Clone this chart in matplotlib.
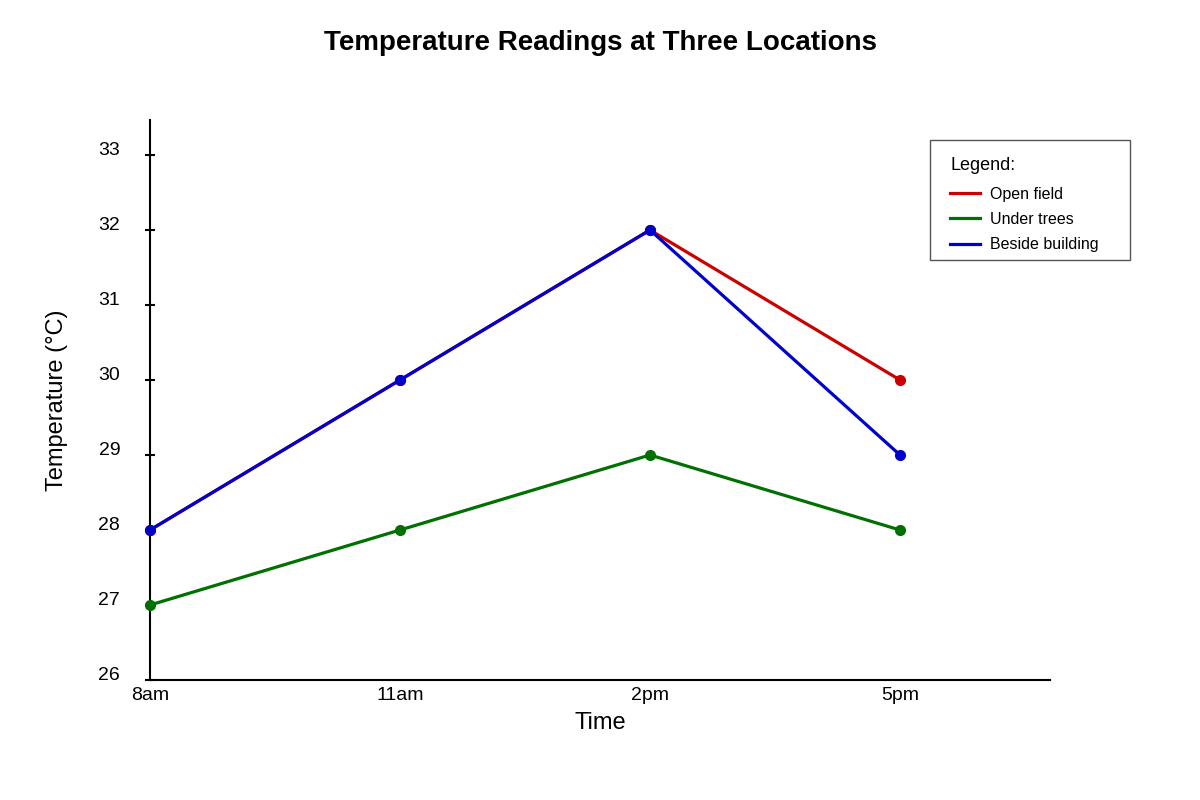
import matplotlib
matplotlib.use('Agg')
import matplotlib.pyplot as plt
from matplotlib.patches import Rectangle

plt.rcParams['font.family'] = ['Liberation Sans', 'DejaVu Sans']

# 数据
times = ['8am', '11am', '2pm', '5pm']
open_field = [28, 30, 32, 30]
under_trees = [27, 28, 29, 28]
beside_building = [28, 30, 32, 29]
y_ticks = [26, 27, 28, 29, 30, 31, 32, 33]

series = [
    ('Open field', open_field, '#cc0000'),
    ('Under trees', under_trees, '#007000'),
    ('Beside building', beside_building, '#0000cc'),
]

fig = plt.figure(figsize=(12, 8), dpi=100)
ax = fig.add_axes([0.125, 0.15, 0.75, 0.70])

x = list(range(len(times)))
for name, vals, col in series:
    ax.plot(x, vals, color=col, lw=2.3, marker='o', ms=7, label=name,
            clip_on=False, zorder=3)

ax.set_xlim(0, 3.6)
ax.set_ylim(26, 26 + 560 / 75)
ax.set_xticks(x)
ax.set_xticklabels(times, fontsize=14)
ax.set_yticks(y_ticks)
ax.set_yticklabels([str(v) for v in y_ticks], fontsize=14)
for lab in ax.get_yticklabels():
    lab.set_va('baseline')

for s in ['top', 'right']:
    ax.spines[s].set_visible(False)
for s in ['left', 'bottom']:
    ax.spines[s].set_linewidth(1.5)
    ax.spines[s].set_color('black')

ax.tick_params(axis='y', direction='inout', length=7, width=1.5, pad=18)
ax.tick_params(axis='x', length=0, pad=5)

ax.set_xlabel('Time', fontsize=17, labelpad=6)
ax.set_ylabel('Temperature (°C)', fontsize=17, labelpad=22)

fig.suptitle('Temperature Readings at Three Locations', fontsize=20,
             fontweight='bold', y=1 - 43 / 800, va='center')

# 图例框
fig.patches.append(Rectangle((930 / 1200, 540 / 800), 200 / 1200, 120 / 800,
                             transform=fig.transFigure, fill=False,
                             edgecolor='#555555', lw=1.0))

leg = fig.legend(loc='upper left', bbox_to_anchor=(950 / 1200, 1 - 157 / 800),
                 borderaxespad=0, borderpad=0, title='Legend:',
                 title_fontsize=13, fontsize=11.5, alignment='left',
                 frameon=False, handlelength=1.85, handletextpad=0.65,
                 labelspacing=0.65)
leg._legend_box.sep = 9
for line in leg.get_lines():
    line.set_marker('')
    line.set_linewidth(2.3)

fig.savefig('out.png', dpi=100)
